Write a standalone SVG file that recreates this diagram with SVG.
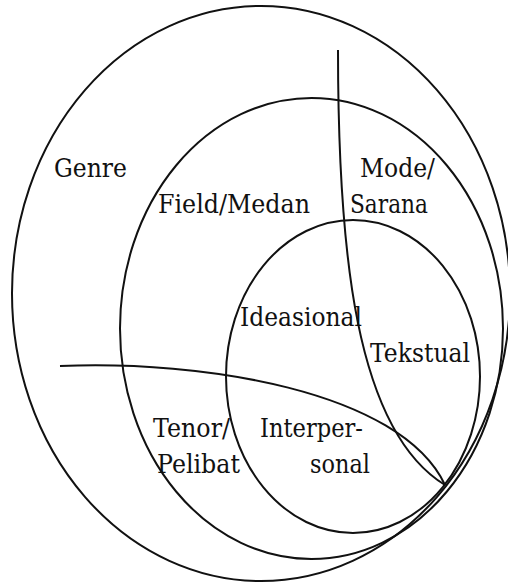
<svg xmlns="http://www.w3.org/2000/svg" width="508" height="583" viewBox="0 0 508 583">
<style>
.l{fill:none;stroke:#111;stroke-width:2}
.t{font-family:'DejaVu Serif',serif;font-size:26.5px;fill:#111}
</style>
<rect width="508" height="583" fill="#fff"/>
<g id="genre"><ellipse class="l" cx="261" cy="293.5" rx="249" ry="287.5"/><text class="t" x="54" y="177" textLength="73" lengthAdjust="spacingAndGlyphs">Genre</text></g>
<g id="field"><ellipse class="l" cx="311.5" cy="328.5" rx="191.5" ry="230.5"/><text class="t" x="158" y="213" textLength="152" lengthAdjust="spacingAndGlyphs">Field/Medan</text></g>
<g id="metafunctions"><ellipse class="l" cx="353" cy="376.5" rx="127" ry="156.5"/><text class="t" x="240" y="326" textLength="122" lengthAdjust="spacingAndGlyphs">Ideasional</text><text class="t" x="370" y="362" textLength="100" lengthAdjust="spacingAndGlyphs">Tekstual</text><text class="t" x="260" y="437" textLength="103" lengthAdjust="spacingAndGlyphs">Interper-</text><text class="t" x="310" y="473" textLength="60" lengthAdjust="spacingAndGlyphs">sonal</text></g>
<g id="mode"><text class="t" x="360" y="177" textLength="75" lengthAdjust="spacingAndGlyphs">Mode/</text><text class="t" x="350" y="213" textLength="78" lengthAdjust="spacingAndGlyphs">Sarana</text></g>
<g id="tenor"><text class="t" x="153" y="437" textLength="77" lengthAdjust="spacingAndGlyphs">Tenor/</text><text class="t" x="157" y="473" textLength="83" lengthAdjust="spacingAndGlyphs">Pelibat</text></g>
<g id="connectors">
<path class="l" d="M338,50 C338,250 355,430 445,485"/>
<path class="l" d="M60,366 C200,360 400,390 445,485"/>
</g>
</svg>
